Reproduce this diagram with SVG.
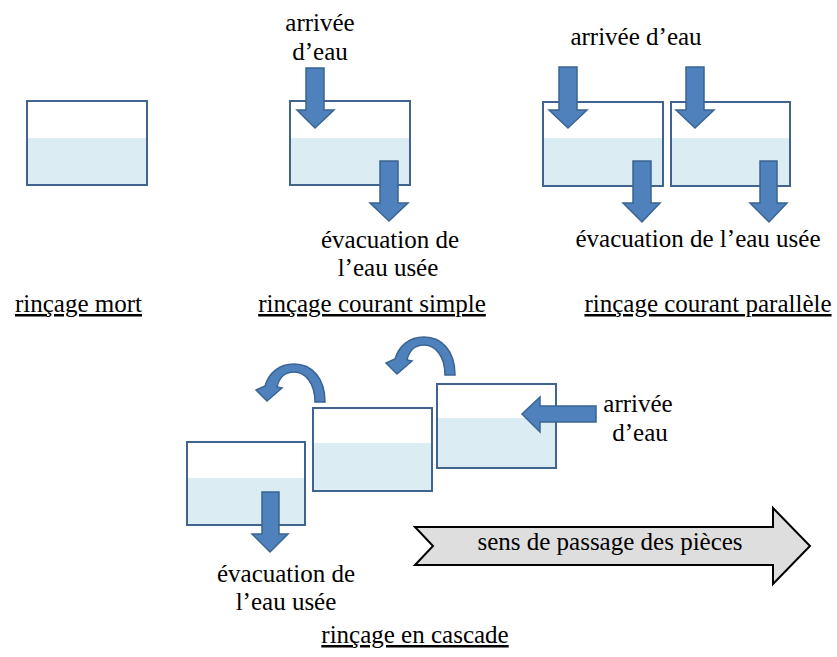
<svg xmlns="http://www.w3.org/2000/svg" width="837" height="657" viewBox="0 0 837 657">
<style>
.tank{fill:#ffffff;stroke:#41648f;stroke-width:2}
.water{fill:#dbedf3}
.arr{fill:#4f81bd;stroke:#3a6491;stroke-width:1.5;stroke-linejoin:miter}
.t{font-family:"Liberation Serif","Times New Roman",serif;font-size:25px;fill:#000;text-anchor:middle}
.u{text-decoration:underline}
.chev{fill:#dedede;stroke:#000;stroke-width:2}
</style>
<rect width="837" height="657" fill="#ffffff"/>

<g id="tank-mort">
<rect class="tank" x="27" y="101" width="120" height="84"/>
<rect class="water" x="28" y="138" width="118" height="46"/>
</g>

<g id="tank-simple">
<rect class="tank" x="290" y="101" width="120" height="84"/>
<rect class="water" x="291" y="138" width="118" height="46"/>
</g>

<g id="tank-par1">
<rect class="tank" x="543" y="102" width="120" height="84"/>
<rect class="water" x="544" y="138" width="118" height="47"/>
</g>
<g id="tank-par2">
<rect class="tank" x="671" y="102" width="119" height="84"/>
<rect class="water" x="672" y="138" width="117" height="47"/>
</g>

<g id="tank-casc1">
<rect class="tank" x="187" y="442" width="118" height="83"/>
<rect class="water" x="188" y="478" width="116" height="46"/>
</g>
<g id="tank-casc2">
<rect class="tank" x="313" y="408" width="119" height="83"/>
<rect class="water" x="314" y="443" width="117" height="47"/>
</g>
<g id="tank-casc3">
<rect class="tank" x="437" y="384" width="119" height="84"/>
<rect class="water" x="438" y="418" width="117" height="49"/>
</g>

<g id="connectors">
<!-- simple -->
<polygon class="arr" points="306,68 324,68 324,110 334,110 315,128 297,110 306,110"/>
<polygon class="arr" points="380,161 398,161 398,203 408,203 389,221 370,203 380,203"/>
<!-- parallel -->
<polygon class="arr" points="559,67 577,67 577,110 587,110 568,128 549,110 559,110"/>
<polygon class="arr" points="686,67 704,67 704,110 714,110 695,128 676,110 686,110"/>
<polygon class="arr" points="633,161 651,161 651,203 660,203 642,222 623,203 633,203"/>
<polygon class="arr" points="760,161 777,161 777,203 787,203 769,222 750,203 760,203"/>
<!-- cascade -->
<polygon class="arr" points="262,492 279,492 279,534 288,534 270,552 252,534 262,534"/>
<polygon class="arr" points="596,406 596,422 540,422 540,432 522,414 540,397 540,406"/>
<path class="arr" d="M315,402 C315,384 306,372 294,372 C285,372 279,378 277,387 L282,388 L267,401 L256,390 L265,386 C269,373 279,364 294,364 C312,364 325,378 325,402 Z"/>
<path class="arr" transform="translate(130,-27)" d="M315,402 C315,384 306,372 294,372 C285,372 279,378 277,387 L282,388 L267,401 L256,390 L265,386 C269,373 279,364 294,364 C312,364 325,378 325,402 Z"/>
</g>

<g id="chevron">
<polygon class="chev" points="415,527 773,527 773,508 810,546 773,584 773,565 415,565 433,546"/>
<text class="t" x="610" y="550">sens de passage des pièces</text>
</g>

<g id="labels">
<text class="t" x="320" y="31">arrivée</text>
<text class="t" x="320" y="60">d’eau</text>
<text class="t" x="636" y="45">arrivée d’eau</text>
<text class="t" x="390" y="248">évacuation de</text>
<text class="t" x="388" y="276">l’eau usée</text>
<text class="t" x="698" y="247">évacuation de l’eau usée</text>
<text class="t u" x="78.5" y="312">rinçage mort</text>
<text class="t u" x="372" y="312">rinçage courant simple</text>
<text class="t u" x="708" y="312">rinçage courant parallèle</text>
<text class="t" x="638" y="412">arrivée</text>
<text class="t" x="640" y="441">d’eau</text>
<text class="t" x="286" y="582">évacuation de</text>
<text class="t" x="286" y="610">l’eau usée</text>
<text class="t u" x="415" y="643">rinçage en cascade</text>
</g>
</svg>
